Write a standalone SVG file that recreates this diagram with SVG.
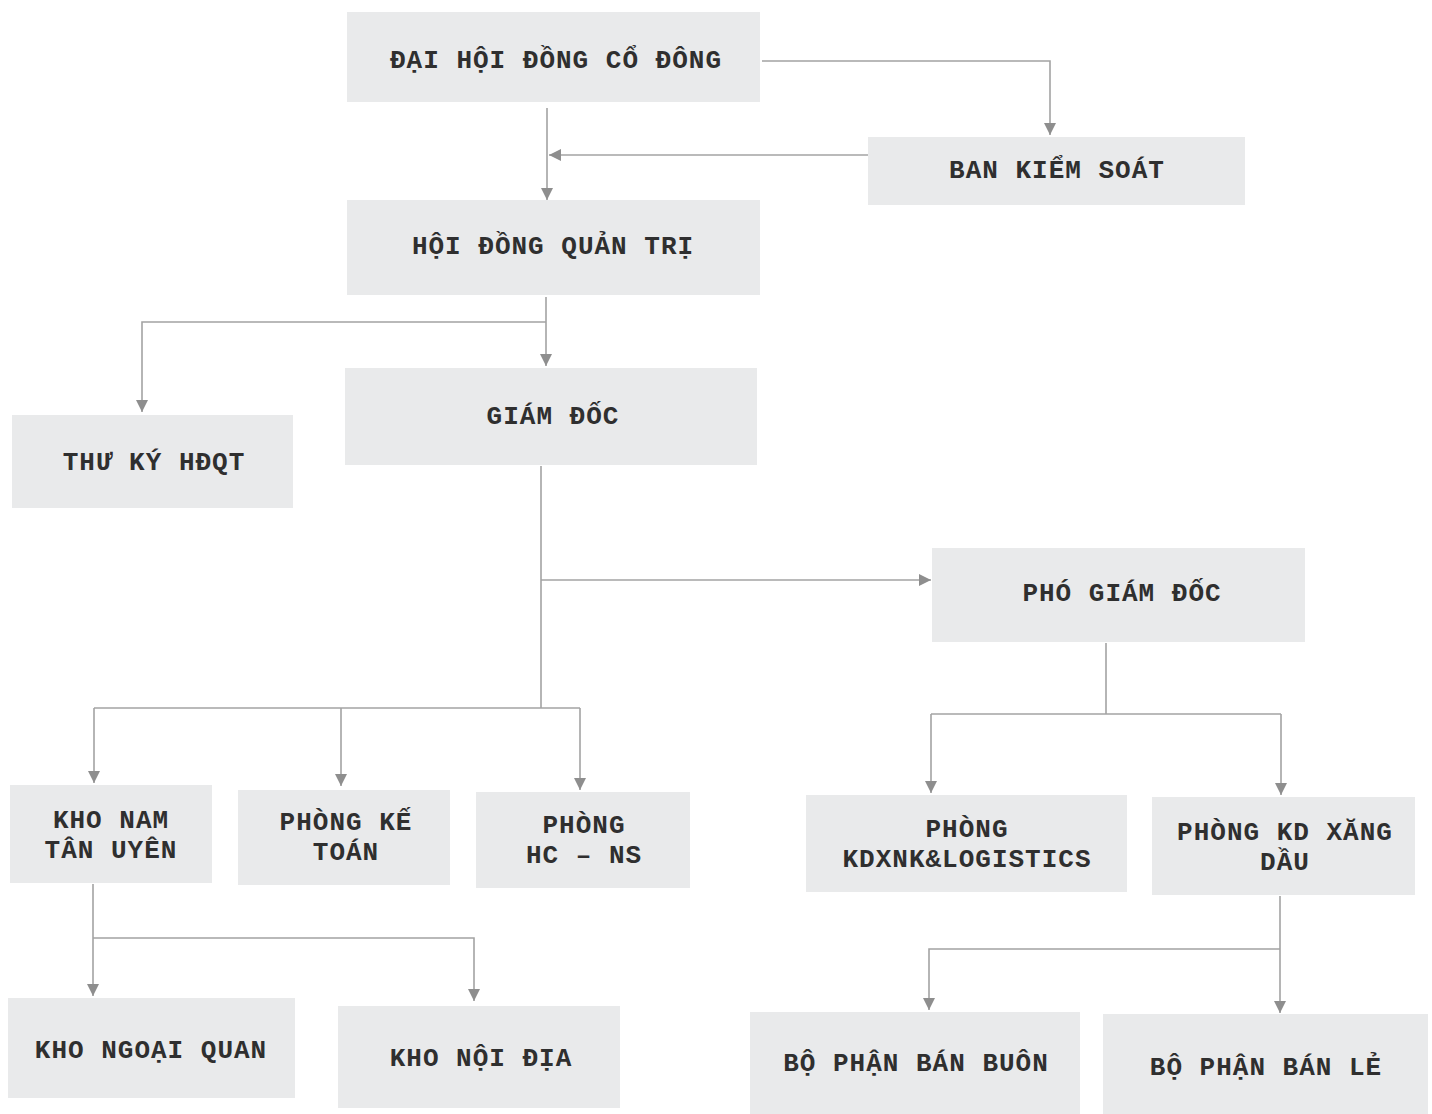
<svg xmlns="http://www.w3.org/2000/svg" width="1432" height="1114" viewBox="0 0 1432 1114">
<style>
.box{fill:#e9eaeb;}
.t{font-family:"Liberation Mono","Courier New",monospace;font-weight:bold;font-size:26px;letter-spacing:1px;fill:#2f2f2f;text-anchor:middle;}
.c{fill:none;stroke:#a3a3a3;stroke-width:1.6;}
.ca{fill:none;stroke:#a3a3a3;stroke-width:1.6;marker-end:url(#arr);}
</style>
<defs>
<marker id="arr" viewBox="0 0 12 12" refX="12" refY="6" markerWidth="12" markerHeight="12" markerUnits="userSpaceOnUse" orient="auto">
<path d="M0,0 L12,6 L0,12 z" fill="#8e8e8e"/>
</marker>
</defs>
<rect x="0" y="0" width="1432" height="1114" fill="#ffffff"/>

<g id="connectors">
<path class="ca" d="M762,61 H1050 V135"/>
<path class="ca" d="M868,155 H549"/>
<path class="ca" d="M547,108 V200"/>
<path class="ca" d="M546,297 V366"/>
<path class="ca" d="M546,322 H142 V412"/>
<path class="c" d="M541,466 V708"/>
<path class="ca" d="M541,580 H931"/>
<path class="c" d="M94,708 H580"/>
<path class="ca" d="M94,708 V783"/>
<path class="ca" d="M341,708 V786"/>
<path class="ca" d="M580,708 V790"/>
<path class="c" d="M1106,643 V714"/>
<path class="c" d="M931,714 H1281"/>
<path class="ca" d="M931,714 V793"/>
<path class="ca" d="M1281,714 V795"/>
<path class="c" d="M93,884 V938"/>
<path class="ca" d="M93,938 V996"/>
<path class="ca" d="M93,938 H474 V1001"/>
<path class="c" d="M1280,896 V949"/>
<path class="ca" d="M1280,949 V1013"/>
<path class="ca" d="M1280,949 H929 V1010"/>
</g>

<g id="dhdcd"><rect class="box" x="347" y="12" width="413" height="90"/><text class="t" x="556" y="68">ĐẠI HỘI ĐỒNG CỔ ĐÔNG</text></g>
<g id="bks"><rect class="box" x="868" y="137" width="377" height="68"/><text class="t" x="1057" y="178">BAN KIỂM SOÁT</text></g>
<g id="hdqt"><rect class="box" x="347" y="200" width="413" height="95"/><text class="t" x="553" y="254">HỘI ĐỒNG QUẢN TRỊ</text></g>
<g id="thuky"><rect class="box" x="12" y="415" width="281" height="93"/><text class="t" x="154" y="470">THƯ KÝ HĐQT</text></g>
<g id="giamdoc"><rect class="box" x="345" y="368" width="412" height="97"/><text class="t" x="553" y="424">GIÁM ĐỐC</text></g>
<g id="phogiamdoc"><rect class="box" x="932" y="548" width="373" height="94"/><text class="t" x="1122" y="601">PHÓ GIÁM ĐỐC</text></g>
<g id="khonam"><rect class="box" x="10" y="785" width="202" height="98"/><text class="t" x="111" y="828">KHO NAM</text><text class="t" x="111" y="858">TÂN UYÊN</text></g>
<g id="ketoan"><rect class="box" x="238" y="790" width="212" height="95"/><text class="t" x="346" y="830">PHÒNG KẾ</text><text class="t" x="346" y="860">TOÁN</text></g>
<g id="hcns"><rect class="box" x="476" y="792" width="214" height="96"/><text class="t" x="584" y="833">PHÒNG</text><text class="t" x="584" y="863">HC – NS</text></g>
<g id="kdxnk"><rect class="box" x="806" y="795" width="321" height="97"/><text class="t" x="967" y="837">PHÒNG</text><text class="t" x="967" y="867">KDXNK&amp;LOGISTICS</text></g>
<g id="kdxang"><rect class="box" x="1152" y="797" width="263" height="98"/><text class="t" x="1285" y="840">PHÒNG KD XĂNG</text><text class="t" x="1285" y="870">DẦU</text></g>
<g id="ngoaiquan"><rect class="box" x="8" y="998" width="287" height="100"/><text class="t" x="151" y="1058">KHO NGOẠI QUAN</text></g>
<g id="noidia"><rect class="box" x="338" y="1006" width="282" height="102"/><text class="t" x="481" y="1066">KHO NỘI ĐỊA</text></g>
<g id="banbuon"><rect class="box" x="750" y="1012" width="330" height="102"/><text class="t" x="916" y="1071">BỘ PHẬN BÁN BUÔN</text></g>
<g id="banle"><rect class="box" x="1103" y="1014" width="325" height="100"/><text class="t" x="1266" y="1075">BỘ PHẬN BÁN LẺ</text></g>
</svg>
